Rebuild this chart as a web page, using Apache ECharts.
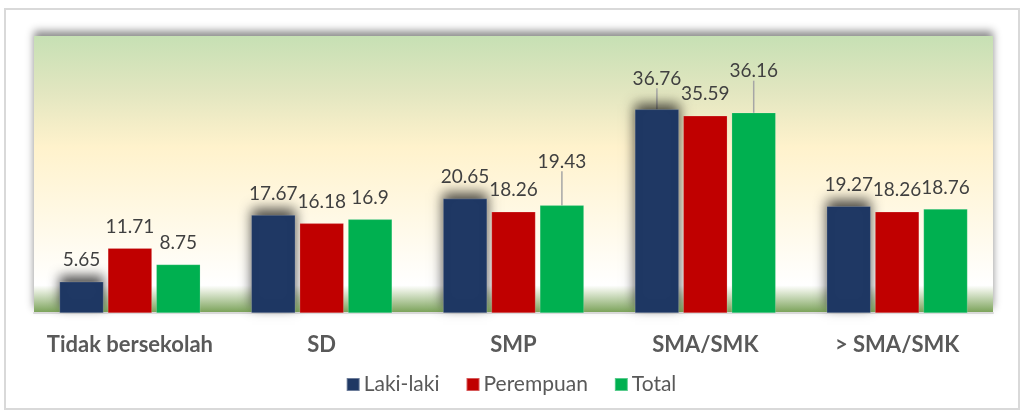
<!DOCTYPE html>
<html>
<head>
<meta charset="utf-8">
<script src="https://cdn.jsdelivr.net/npm/echarts@6/dist/echarts.min.js"></script>
<style>
  html, body { margin: 0; padding: 0; background: #fff; }
  #frame {
    position: absolute; left: 4px; top: 8px; width: 1016px; height: 402px;
    border: 2px solid #d9d9d9; box-sizing: border-box;
  }
  #chart { position: absolute; left: 0; top: 0; width: 1022px; height: 413px; }
</style>
</head>
<body>
<div id="frame"></div>
<div id="chart"></div>
<script>
// kategori pendidikan
const categories = ['Tidak bersekolah', 'SD', 'SMP', 'SMA/SMK', '> SMA/SMK']
const lakiLaki = [5.65, 17.67, 20.65, 36.76, 19.27]
const perempuan = [11.71, 16.18, 18.26, 35.59, 18.26]
const total = [8.75, 16.9, 19.43, 36.16, 18.76]

// labels pushed up with a leader line: [seriesIndex, dataIndex, dy]
const movedLabels = [[0, 3, -9], [2, 2, -22], [2, 3, -20]]

const chart = echarts.init(document.getElementById('chart'))

function findMove (s, i) {
  for (const m of movedLabels) {
    if (m[0] === s && m[1] === i) return m
  }
  return null
}

function barSeries (idx, name, data, color, shadow) {
  return {
    name: name,
    type: 'bar',
    data: data.map(function (v, i) {
      // leader line only where the label was moved
      return { value: v, labelLine: { show: !!findMove(idx, i) } }
    }),
    barWidth: 44,
    barGap: '10%',
    itemStyle: {
      color: color,
      borderColor: 'rgba(255,255,255,0.35)',
      borderWidth: 0.5,
      shadowColor: shadow ? 'rgba(0,0,0,0.7)' : 'transparent',
      shadowBlur: shadow ? 12 : 0,
      shadowOffsetY: shadow ? -6 : 0
    },
    label: {
      show: true,
      position: 'top',
      distance: 12,
      fontFamily: 'Lato',
      fontSize: 19,
      color: '#404040'
    },
    labelLine: {
      show: false,
      lineStyle: { color: '#a6a6a6', width: 1.5 }
    }
  }
}

const option = {
  animation: false,
  textStyle: { fontFamily: 'Lato' },
  color: ['#1f3864', '#c00000', '#00b050'],
  grid: {
    left: 34,
    right: 29,
    top: 36,
    bottom: 100,
    show: true,
    borderWidth: 0,
    backgroundColor: {
      type: 'linear', x: 0, y: 0, x2: 0, y2: 1,
      colorStops: [
        { offset: 0, color: '#c6e0b4' },
        { offset: 0.2, color: '#e2e6c0' },
        { offset: 0.4, color: '#fff2cc' },
        { offset: 0.7, color: '#fffaea' },
        { offset: 0.9, color: '#ffffff' },
        { offset: 0.92, color: '#e6eddd' },
        { offset: 1, color: '#77a055' }
      ]
    },
    shadowColor: 'rgba(0,0,0,0.45)',
    shadowBlur: 8,
    shadowOffsetY: -5
  },
  legend: {
    top: 369,
    left: 'center',
    itemWidth: 13,
    itemHeight: 13,
    itemGap: 26,
    icon: 'rect',
    textStyle: { fontSize: 21, color: '#595959', fontFamily: 'Lato', padding: [0, 0, 0, -1] },
    data: ['Laki-laki', 'Perempuan', 'Total']
  },
  xAxis: {
    type: 'category',
    data: categories,
    axisLine: { lineStyle: { color: '#d9d9d9', width: 2 } },
    axisTick: { show: false },
    axisLabel: {
      interval: 0,
      margin: 21,
      fontSize: 22,
      fontWeight: 'bold',
      color: '#595959',
      fontFamily: 'Lato'
    }
  },
  yAxis: {
    type: 'value',
    min: 0,
    max: 50,
    show: false,
    splitLine: { show: false }
  },
  labelLayout: function (params) {
    const m = findMove(params.seriesIndex, params.dataIndex)
    return m ? { dy: m[2] } : {}
  },
  series: [
    barSeries(0, 'Laki-laki', lakiLaki, '#1f3864', true),
    barSeries(1, 'Perempuan', perempuan, '#c00000', false),
    barSeries(2, 'Total', total, '#00b050', false)
  ]
}

chart.setOption(option)
</script>
</body>
</html>
